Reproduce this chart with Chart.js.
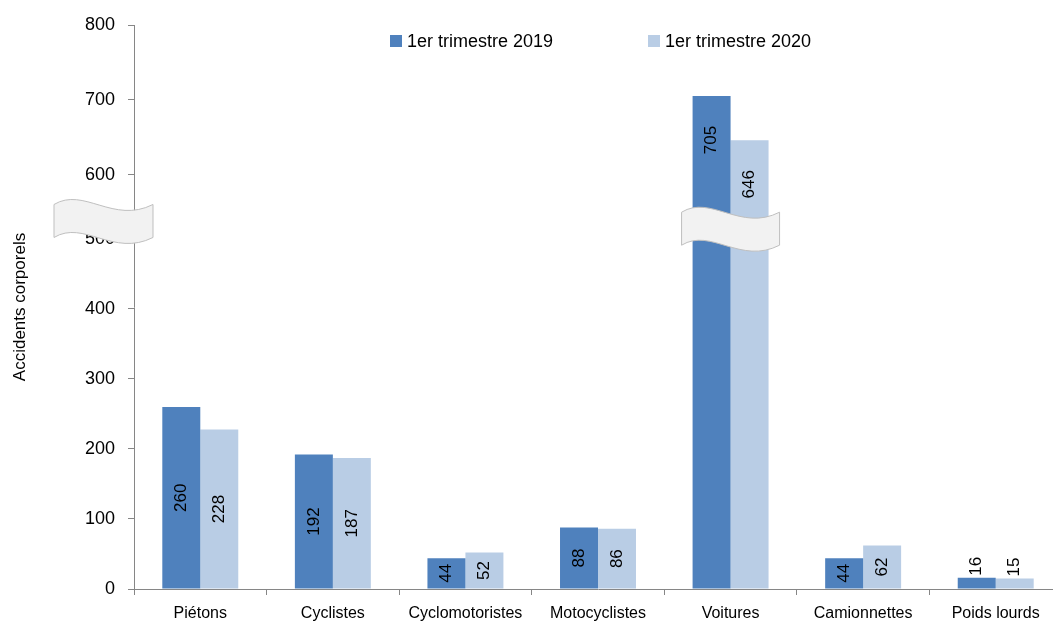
<!DOCTYPE html>
<html>
<head>
<meta charset="utf-8">
<script src="https://cdn.jsdelivr.net/npm/chart.js@4/dist/chart.umd.min.js"></script>
<style>
  html, body { margin: 0; padding: 0; overflow: hidden; background: #fff; }
  #wrap { width: 1062px; height: 623px; }
</style>
</head>
<body>
<div id="wrap"><canvas id="chart" width="1062" height="623"></canvas></div>
<script>
const categories = ['Piétons', 'Cyclistes', 'Cyclomotoristes', 'Motocyclistes', 'Voitures', 'Camionnettes', 'Poids lourds'];
const trimestre2019 = [260, 192, 44, 88, 705, 44, 16];
const trimestre2020 = [228, 187, 52, 86, 646, 62, 15];
const seriesLabels = ['1er trimestre 2019', '1er trimestre 2020'];
const seriesColors = ['#4F81BD', '#B9CDE5'];
const yTitle = 'Accidents corporels';

const FONT = "'Liberation Sans', Arial, sans-serif";

// axe coupé : entre 500 et 600 l'échelle est compressée
const breakValues = [0, 500, 600, 800];
const breakFracs = [0, 0.6206, 0.7346, 1];

function toFrac(v) {
    for (let i = 1; i < breakValues.length; i++) {
        if (v <= breakValues[i] || i === breakValues.length - 1) {
            const a = breakValues[i - 1], b = breakValues[i];
            return breakFracs[i - 1] + (v - a) / (b - a) * (breakFracs[i] - breakFracs[i - 1]);
        }
    }
}
function fromFrac(f) {
    for (let i = 1; i < breakFracs.length; i++) {
        if (f <= breakFracs[i] || i === breakFracs.length - 1) {
            const a = breakFracs[i - 1], b = breakFracs[i];
            return breakValues[i - 1] + (f - a) / (b - a) * (breakValues[i] - breakValues[i - 1]);
        }
    }
}

class BrokenScale extends Chart.LinearScale {
    getPixelForValue(value) {
        return this.bottom - toFrac(value) * (this.bottom - this.top);
    }
    getValueForPixel(pixel) {
        return fromFrac((this.bottom - pixel) / (this.bottom - this.top));
    }
}
BrokenScale.id = 'broken';
BrokenScale.defaults = Chart.LinearScale.defaults;
Chart.register(BrokenScale);

function drawBreak(ctx, x0, cy, w, h) {
    const yTop = cy - h / 2, yBot = cy + h / 2, x1 = x0 + w;
    ctx.save();
    ctx.beginPath();
    ctx.moveTo(x0, yTop);
    ctx.bezierCurveTo(x0 + w * 0.3, yTop - 18, x0 + w * 0.6, yTop + 20, x1, yTop);
    ctx.lineTo(x1, yBot);
    ctx.bezierCurveTo(x0 + w * 0.6, yBot + 20, x0 + w * 0.3, yBot - 18, x0, yBot);
    ctx.closePath();
    ctx.fillStyle = '#F2F2F2';
    ctx.fill();
    ctx.strokeStyle = '#BFBFBF';
    ctx.lineWidth = 1;
    ctx.stroke();
    ctx.restore();
}

const decorPlugin = {
    id: 'decor',
    afterDatasetsDraw(chart) {
        const ctx = chart.ctx;
        ctx.save();
        ctx.font = '17px ' + FONT;
        ctx.fillStyle = '#000';
        chart.data.datasets.forEach((ds, di) => {
            const meta = chart.getDatasetMeta(di);
            meta.data.forEach((bar, i) => {
                const txt = String(ds.data[i]);
                const tw = ctx.measureText(txt).width;
                const h = bar.base - bar.y;
                ctx.save();
                ctx.translate(bar.x, 0);
                ctx.rotate(-Math.PI / 2);
                ctx.textBaseline = 'middle';
                if (ds.data[i] > 600) {
                    ctx.textAlign = 'center';
                    ctx.fillText(txt, -(bar.y + 44), 0);
                } else if (h >= tw + 6) {
                    ctx.textAlign = 'center';
                    ctx.fillText(txt, -(bar.y + h / 2), 0);
                } else {
                    ctx.textAlign = 'left';
                    ctx.fillText(txt, -(bar.y - 2), 0);
                }
                ctx.restore();
            });
        });
        ctx.restore();
    },
    afterDraw(chart) {
        const ctx = chart.ctx;
        const x = chart.scales.x, y = chart.scales.y;
        drawBreak(ctx, y.right - 80, y.getPixelForValue(528), 99, 33);
        drawBreak(ctx, x.getPixelForValue(4) - 49, y.getPixelForValue(516), 98, 33);

        // légende
        const area = chart.chartArea;
        const pos = [area.left + 256, area.left + 514];
        ctx.save();
        ctx.font = '18px ' + FONT;
        ctx.textBaseline = 'middle';
        ctx.textAlign = 'left';
        seriesLabels.forEach((lab, i) => {
            ctx.fillStyle = seriesColors[i];
            ctx.fillRect(pos[i], 35, 12, 12);
            ctx.fillStyle = '#000';
            ctx.fillText(lab, pos[i] + 17, 42);
        });
        ctx.restore();
    }
};

new Chart(document.getElementById('chart').getContext('2d'), {
    type: 'bar',
    data: {
        labels: categories,
        datasets: [
            { label: seriesLabels[0], data: trimestre2019, backgroundColor: seriesColors[0] },
            { label: seriesLabels[1], data: trimestre2020, backgroundColor: seriesColors[1] }
        ]
    },
    options: {
        responsive: false,
        animation: false,
        devicePixelRatio: 1,
        layout: { padding: { top: 25, left: 0, right: 0, bottom: 0 } },
        datasets: { bar: { categoryPercentage: 0.573, barPercentage: 1 } },
        plugins: { legend: { display: false }, tooltip: { enabled: false } },
        scales: {
            x: {
                afterFit(scale) { scale.height = 34; },
                grid: { drawOnChartArea: false, offset: true, color: '#868686', tickLength: 6 },
                border: { color: '#868686' },
                ticks: { color: '#000', font: { family: FONT, size: 16 }, padding: 9, maxRotation: 0 }
            },
            y: {
                type: 'broken',
                min: 0,
                max: 800,
                afterFit(scale) { scale.width = 134; },
                grid: { drawOnChartArea: false, color: '#868686', tickLength: 6 },
                border: { color: '#868686' },
                ticks: { stepSize: 100, color: '#000', font: { family: FONT, size: 18 }, padding: 13 },
                title: { display: true, text: yTitle, color: '#000', font: { family: FONT, size: 17 }, padding: { top: 10, bottom: 0 } }
            }
        }
    },
    plugins: [decorPlugin]
});
</script>
</body>
</html>
